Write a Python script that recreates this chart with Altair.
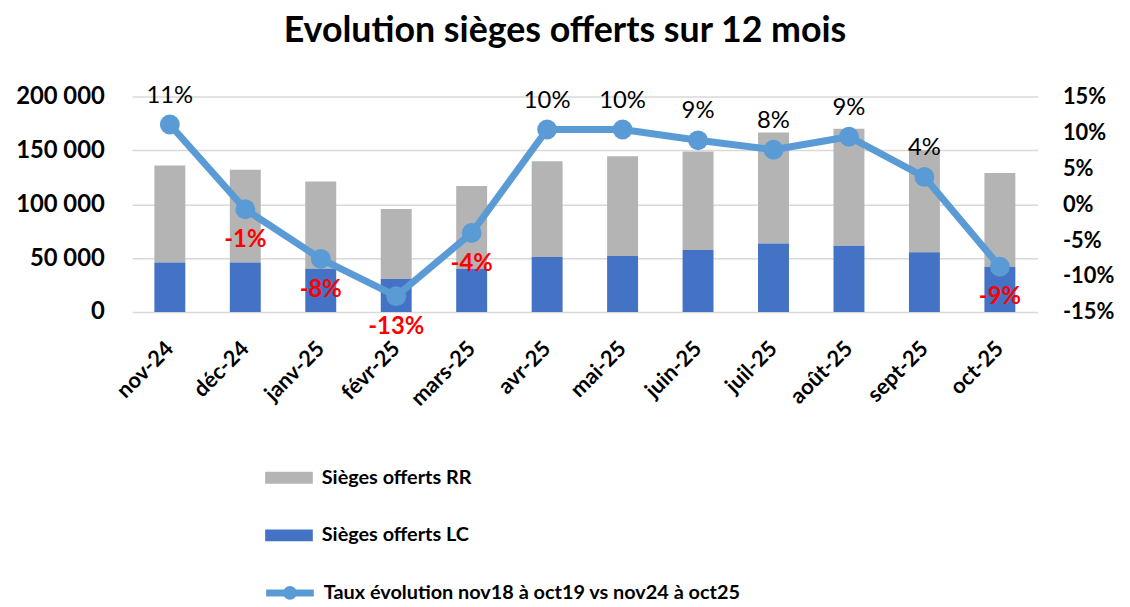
import altair as alt
import pandas as pd

months = ["nov-24", "déc-24", "janv-25", "févr-25", "mars-25", "avr-25",
          "mai-25", "juin-25", "juil-25", "août-25", "sept-25", "oct-25"]
seats_lc = [46000, 46000, 40000, 30500, 40000, 51000, 52000, 57500, 63500, 61500, 55500, 42000]
seats_rr = [90000, 86000, 81000, 65000, 77000, 89000, 92500, 91500, 103000, 108500, 94500, 87000]
rate = [0.111, -0.007, -0.076, -0.128, -0.040, 0.104, 0.104, 0.089, 0.076, 0.094, 0.038, -0.087]

SER_RR = "Sièges offerts RR"
SER_LC = "Sièges offerts LC"
SER_RATE = "Taux évolution nov18 à oct19 vs nov24 à oct25"
TITLE = "Evolution sièges offerts sur 12 mois"

bars_df = pd.DataFrame({
    "month": months * 2,
    "seats": seats_rr + seats_lc,
    "series": [SER_RR] * len(months) + [SER_LC] * len(months),
    "stack": [1] * len(months) + [0] * len(months),
})
line_df = pd.DataFrame({"month": months, "rate": rate, "series": [SER_RATE] * len(months)})

FONT = "Lato"

x_enc = alt.X(
    "month:N", sort=months,
    scale=alt.Scale(paddingInner=0.59, paddingOuter=0.295),
    axis=alt.Axis(title=None, labelAngle=-45, labelFontSize=22, labelFontWeight="bold",
                  labelColor="black", labelAlign="right", labelBaseline="middle",
                  labelOffset=0, labelPadding=33, ticks=False, domain=False, grid=False),
)

bars = alt.Chart(bars_df).mark_bar().encode(
    x=x_enc,
    y=alt.Y("seats:Q", stack="zero",
            scale=alt.Scale(domain=[0, 200000], nice=False),
            axis=alt.Axis(title=None, values=[0, 50000, 100000, 150000, 200000],
                          labelExpr="replace(format(datum.value, ','), ',', ' ')",
                          labelFontSize=24, labelFontWeight="bold", labelColor="black",
                          grid=True, gridColor="#d9d9d9", gridWidth=1.5,
                          domain=False, ticks=False, labelPadding=28)),
    color=alt.Color("series:N",
                    scale=alt.Scale(domain=[SER_RR, SER_LC], range=["#b4b4b4", "#4472c4"]),
                    legend=alt.Legend(orient="none", legendX=148, legendY=374,
                                      direction="vertical", title=None,
                                      symbolType="M-3.2,-0.8H3.2V0.8H-3.2Z", symbolSize=225,
                                      labelFontSize=20, labelFontWeight="bold",
                                      labelColor="black", rowPadding=38, labelOffset=23,
                                      labelLimit=0)),
    order=alt.Order("stack:Q"),
)

base = alt.Chart(line_df).encode(
    x=x_enc,
    y=alt.Y("rate:Q", scale=alt.Scale(domain=[-0.15, 0.15], nice=False),
            axis=alt.Axis(orient="right", title=None,
                          values=[-0.15, -0.10, -0.05, 0, 0.05, 0.10, 0.15],
                          labelExpr="(datum.value < 0 ? '-' : '') + format(abs(datum.value), '.0%')",
                          labelFontSize=22, labelFontWeight="bold", labelColor="black",
                          grid=False, domain=False, ticks=False, labelPadding=25)),
)

line = base.mark_line(strokeWidth=7, color="#5b9bd5")
pts = base.mark_circle(size=400, opacity=1).encode(
    color=alt.Color("series:N", scale=alt.Scale(domain=[SER_RATE], range=["#5b9bd5"]),
                    legend=alt.Legend(orient="none", legendX=148, legendY=489,
                                      title=None,
                                      symbolType="M-3.2,0H3.2M0.45,0A0.45,0.45,0,1,1,-0.45,0A0.45,0.45,0,1,1,0.45,0",
                                      symbolSize=225, symbolStrokeColor="#5b9bd5",
                                      symbolStrokeWidth=7, labelFontSize=20,
                                      labelFontWeight="bold", labelColor="black",
                                      labelOffset=23, labelLimit=0))
)

lab = base.transform_calculate(
    lab="(datum.rate < 0 ? '-' : '') + format(abs(datum.rate), '.0%')"
)
txt_pos = lab.transform_filter("datum.rate >= 0").mark_text(
    dy=-29, fontSize=24, color="black").encode(text="lab:N")
txt_neg = lab.transform_filter("datum.rate < 0").mark_text(
    dy=31, fontSize=24, fontWeight="bold", color="#ff0000").encode(text="lab:N")

chart = alt.layer(
    bars, alt.layer(line, pts, txt_pos, txt_neg)
).resolve_scale(
    y="independent", color="independent"
).properties(
    width=912, height=217,
    title=alt.TitleParams(TITLE, fontSize=36, fontWeight="bold", font=FONT,
                          anchor="middle", offset=34, dx=-20, color="black"),
    autosize=alt.AutoSizeParams(type="none"),
    padding={"left": 125, "top": 87, "right": 85, "bottom": 292},
).configure(font=FONT).configure_view(stroke=None)

chart.save("out.html", embed_options={"renderer": "svg", "actions": False})
